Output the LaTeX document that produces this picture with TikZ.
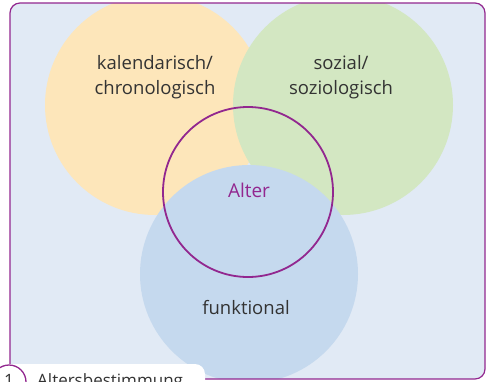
\documentclass[tikz,border=0pt]{standalone}
\usepackage{fontspec}
\setmainfont{Open Sans}
\usetikzlibrary{positioning}
\definecolor{lila}{HTML}{92278F}
\definecolor{hgrund}{HTML}{E1EAF5}
\definecolor{gelb}{HTML}{FDE6BA}
\definecolor{gruen}{HTML}{D3E7C2}
\definecolor{blau}{HTML}{C5D9EE}
\definecolor{textgrau}{HTML}{333333}

\begin{document}
\begin{tikzpicture}
	[x=1pt, y=-1pt,
	 bereich/.style={circle, inner sep=0pt, minimum size=220pt},
	 beschriftung/.style={text=textgrau, align=center, inner sep=0pt, font=\fontsize{18.5}{25.5}\selectfont}]
   \useasboundingbox (0,0) rectangle (487,381);
   \clip (0,0) rectangle (487,381);
   % Rahmen mit Hintergrund
   \fill[hgrund, rounded corners=10pt] (10,3) rectangle (485,379);
   \begin{scope}
      \clip[rounded corners=10pt] (10,3) rectangle (485,379);
      \node[bereich, fill=gelb] (kal) at (155,105) {};
      \node[bereich, fill=gruen] (soz) at (343,105) {};
      \node[bereich, fill=blau, minimum size=218pt] (fkt) at (249,274) {};
   \end{scope}
   \node[circle, draw=lila, line width=1.8pt, minimum size=170pt, inner sep=0pt] (alter) at (248,192) {};
   % Beschriftungen
   \node[beschriftung] (t_kal) at (155,77) {kalendarisch/\\chronologisch};
   \node[beschriftung] (t_soz) at (341,77) {sozial/\\soziologisch};
   \node[beschriftung, anchor=base] (t_fkt) at (246,314) {funktional};
   \node[text=lila, font=\fontsize{19}{22}\selectfont, anchor=base, inner sep=0pt] (t_alter) at (249,197) {Alter};
   \draw[lila, line width=1.2pt, rounded corners=10pt] (10,3) rectangle (485,379);
   % Bildunterschrift
   \fill[white, rounded corners=10pt] (0,364) rectangle (205,400);
   \node[circle, draw=lila, fill=white, line width=1.3pt, minimum size=34pt, inner sep=0pt] (nr) at (9,382) {};
   \node[anchor=base, text=textgrau, font=\fontsize{17}{20}\selectfont] (t_nr) at (9,386) {1};
   \node[anchor=base west, text=textgrau, font=\fontsize{17}{20}\selectfont, inner sep=0pt] (titel) at (37,386) {Altersbestimmung};
\end{tikzpicture}
\end{document}
